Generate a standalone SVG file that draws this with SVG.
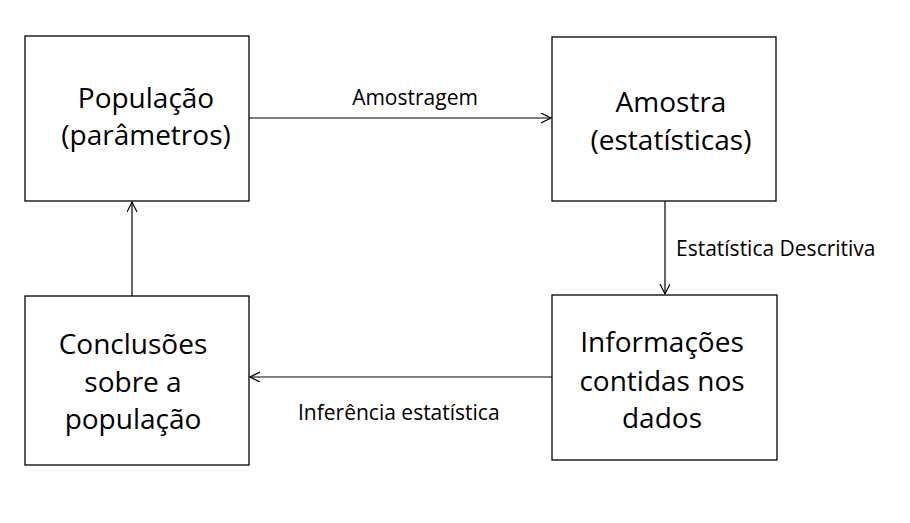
<svg xmlns="http://www.w3.org/2000/svg" width="910" height="523" viewBox="0 0 910 523">
<style>
.box{fill:#fff;stroke:#000;stroke-width:1.3}
.big{font-family:"Open Sans","Liberation Sans",sans-serif;font-size:28px;fill:#000;text-anchor:middle}
.lbl{font-family:"Open Sans","Liberation Sans",sans-serif;font-size:21px;fill:#000}
.ln{stroke:#000;stroke-width:1.2;fill:none;marker-end:url(#ah)}
</style>
<defs>
<marker id="ah" markerWidth="12" markerHeight="12" refX="10" refY="5" orient="auto" markerUnits="userSpaceOnUse">
<path d="M0,0 L10,5 L0,10" fill="none" stroke="#000" stroke-width="1.2"/>
</marker>
</defs>
<rect width="910" height="523" fill="#fff"/>
<g id="connectors">
<line class="ln" x1="249" y1="118" x2="551" y2="118"/>
<line class="ln" x1="665" y1="201" x2="665" y2="294"/>
<line class="ln" x1="552" y1="377" x2="250" y2="377"/>
<line class="ln" x1="132" y1="296" x2="132" y2="202"/>
<text class="lbl" x="415" y="105" text-anchor="middle">Amostragem</text>
<text class="lbl" x="676" y="256">Estatística Descritiva</text>
<text class="lbl" x="298" y="420">Inferência estatística</text>
</g>
<g id="populacao">
<rect class="box" x="25" y="36" width="224" height="165"/>
<text class="big" x="146" y="108">População</text>
<text class="big" x="146" y="145">(parâmetros)</text>
</g>
<g id="amostra">
<rect class="box" x="552" y="37" width="224" height="164"/>
<text class="big" x="671" y="112">Amostra</text>
<text class="big" x="671" y="150">(estatísticas)</text>
</g>
<g id="informacoes">
<rect class="box" x="552" y="295" width="225" height="165"/>
<text class="big" x="662" y="352">Informações</text>
<text class="big" x="662" y="391">contidas nos</text>
<text class="big" x="662" y="428">dados</text>
</g>
<g id="conclusoes">
<rect class="box" x="25" y="296" width="224" height="169"/>
<text class="big" x="133" y="354">Conclusões</text>
<text class="big" x="133" y="392">sobre a</text>
<text class="big" x="133" y="429">população</text>
</g>
</svg>
